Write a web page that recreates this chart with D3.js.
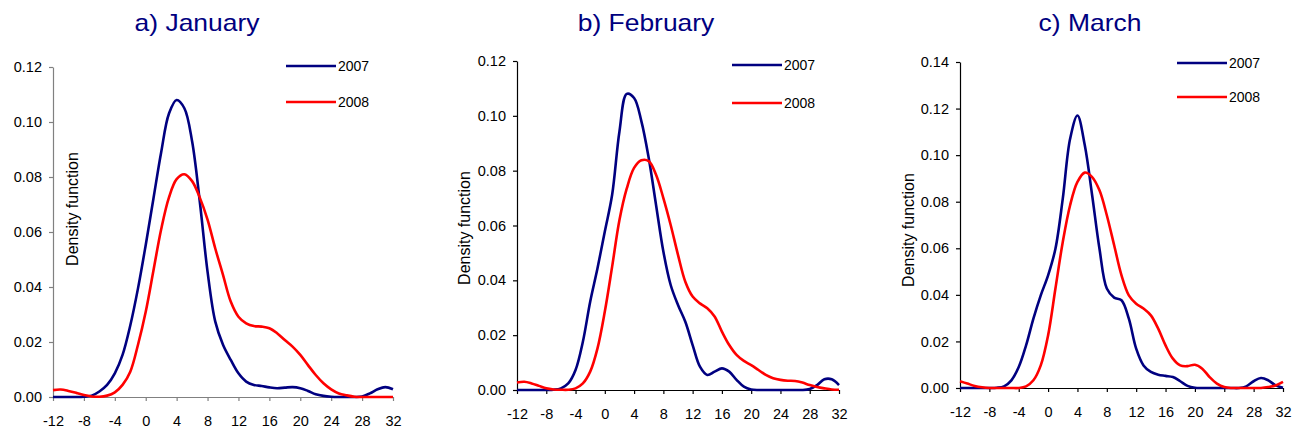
<!DOCTYPE html>
<html>
<head>
<meta charset="utf-8">
<script src="https://cdn.jsdelivr.net/npm/d3@7"></script>
<style>
body { margin: 0; background: #fff; }
text { font-family: Arial, "Liberation Sans", sans-serif; }
</style>
</head>
<body>
<script>
// data
var temps = [-12,-11,-10,-9,-8,-7,-6,-5,-4,-3,-2,-1,0,1,2,3,4,5,6,7,8,9,10,11,12,13,14,15,16,17,18,19,20,21,22,23,24,25,26,27,28,29,30,31,32];
var xTicks = [-12,-8,-4,0,4,8,12,16,20,24,28,32];
var years = ['2007', '2008'];

var jan2007 = [0,0,0,0,0.0001,0.0005,0.002,0.0044,0.0086,0.0153,0.026,0.0395,0.0553,0.0722,0.089,0.103,0.108,0.105,0.093,0.071,0.0456,0.0274,0.019,0.0135,0.0086,0.0056,0.0044,0.004,0.0035,0.0032,0.0034,0.0036,0.0032,0.0022,0.001,0.0004,0.0001,0,0,0,0.0002,0.0013,0.0028,0.0036,0.0028];
var jan2008 = [0.0025,0.0027,0.0022,0.0015,0.0007,0.0002,0.0001,0.0005,0.0017,0.0044,0.0092,0.019,0.031,0.046,0.061,0.0725,0.0792,0.081,0.0785,0.0725,0.0645,0.054,0.0444,0.0347,0.0292,0.0268,0.0258,0.0256,0.025,0.0232,0.0207,0.0183,0.0153,0.0116,0.008,0.005,0.0028,0.0013,0.0006,0.0001,0,0,0,0,0];

var feb2007 = [0,0,0,0,0,0.0001,0.0006,0.0024,0.0073,0.0176,0.0322,0.0444,0.0578,0.0712,0.0943,0.108,0.1065,0.098,0.0846,0.0675,0.0505,0.0383,0.031,0.0249,0.0164,0.0085,0.0055,0.0067,0.0079,0.0067,0.0037,0.0012,0.0002,0,0,0,0,0,0,0,0.0004,0.0018,0.0039,0.0039,0.0018];
var feb2008 = [0.0027,0.003,0.0024,0.0015,0.0006,0.0002,0.0001,0.0001,0.0006,0.0024,0.0067,0.0152,0.0286,0.045,0.062,0.0735,0.081,0.0838,0.0835,0.0785,0.07,0.0602,0.0493,0.0395,0.0341,0.0316,0.0298,0.0268,0.0213,0.0164,0.0128,0.0106,0.0091,0.0073,0.0055,0.0043,0.0037,0.0034,0.0033,0.0027,0.0018,0.0011,0.0006,0.0002,0.0001];

var mar2007 = [0,0,0,0,0,0.0001,0.0007,0.0033,0.009,0.0183,0.0298,0.0398,0.0484,0.0598,0.0813,0.107,0.117,0.1042,0.0828,0.0598,0.0427,0.0388,0.0377,0.0298,0.0169,0.0097,0.0069,0.0057,0.0052,0.0047,0.0029,0.0009,0.0001,0,0,0,0,0,0,0.0007,0.0029,0.0043,0.0033,0.0011,0.0001];
var mar2008 = [0.0029,0.0019,0.0009,0.0003,0,0,0,0,0,0.0007,0.0033,0.0097,0.0226,0.0427,0.0627,0.0785,0.0885,0.0925,0.0906,0.0849,0.0742,0.0613,0.0484,0.0398,0.0362,0.0341,0.0312,0.0255,0.0183,0.0126,0.0097,0.0094,0.01,0.0083,0.0047,0.0019,0.0004,0,0,0,0,0,0.0004,0.0011,0.0026];

var yTicksA = [0,0.02,0.04,0.06,0.08,0.10,0.12];
var yTicksC = [0,0.02,0.04,0.06,0.08,0.10,0.12,0.14];

var colors = ['#000080', '#ff0000'];

// panel layout
var panels = [
	{ title: 'a) January', s: [jan2007, jan2008], yMax: 0.12, yTicks: yTicksA,
	  left: 53, right: 393, top: 67, bottom: 397, axisColor: '#808080',
	  titleX: 197, labelX: 78, labelY: 209, legX: 286, legY: [66, 102] },
	{ title: 'b) February', s: [feb2007, feb2008], yMax: 0.12, yTicks: yTicksA,
	  left: 517, right: 839, top: 61, bottom: 390, axisColor: '#000',
	  titleX: 646, labelX: 470, labelY: 228, legX: 732, legY: [65, 103] },
	{ title: 'c) March', s: [mar2007, mar2008], yMax: 0.14, yTicks: yTicksC,
	  left: 960, right: 1283, top: 62, bottom: 388, axisColor: '#000',
	  titleX: 1090, labelX: 914, labelY: 230, legX: 1177, legY: [63, 97] }
];

var svg = d3.select('body')
	.append('svg')
	.attr('width', 1299)
	.attr('height', 433);

panels.forEach(function (p) {
	var x = d3.scaleLinear().domain([-12, 32]).range([p.left, p.right]);
	var y = d3.scaleLinear().domain([0, p.yMax]).range([p.bottom, p.top]);

	// title
	svg.append('text')
		.attr('transform', 'translate(' + p.titleX + ',31) scale(1.15,1)')
		.attr('text-anchor', 'middle')
		.attr('font-size', 23)
		.attr('fill', '#000080')
		.text(p.title);

	// axes
	var xAxis = d3.axisBottom(x)
		.tickValues(xTicks)
		.tickSize(4)
		.tickSizeOuter(0)
		.tickPadding(15)
		.tickFormat(function (d) { return String(d); });
	var yAxis = d3.axisLeft(y)
		.tickValues(p.yTicks)
		.tickSize(4)
		.tickSizeOuter(0)
		.tickPadding(7)
		.tickFormat(d3.format('.2f'));

	var gx = svg.append('g')
		.attr('transform', 'translate(0,' + p.bottom + ')')
		.call(xAxis);
	var gy = svg.append('g')
		.attr('transform', 'translate(' + p.left + ',0)')
		.call(yAxis);

	[gx, gy].forEach(function (g) {
		g.selectAll('path, line').attr('stroke', p.axisColor).attr('stroke-width', 1.2);
		g.selectAll('text').attr('font-size', 14.5).attr('fill', '#000')
			.style('font-family', 'Arial, "Liberation Sans", sans-serif');
	});

	// y label
	svg.append('text')
		.attr('transform', 'translate(' + p.labelX + ',' + p.labelY + ') rotate(-90)')
		.attr('text-anchor', 'middle')
		.attr('font-size', 16)
		.attr('fill', '#000')
		.text('Density function');

	// lines
	var line = d3.line()
		.x(function (d, i) { return x(temps[i]); })
		.y(function (d) { return y(d); })
		.curve(d3.curveCatmullRom.alpha(0.5));

	p.s.forEach(function (vals, k) {
		svg.append('path')
			.datum(vals)
			.attr('d', line)
			.attr('fill', 'none')
			.attr('stroke', colors[k])
			.attr('stroke-width', 2.6);
	});

	// legend
	years.forEach(function (yr, k) {
		svg.append('line')
			.attr('x1', p.legX).attr('x2', p.legX + 50)
			.attr('y1', p.legY[k]).attr('y2', p.legY[k])
			.attr('stroke', colors[k])
			.attr('stroke-width', 2.6);
		svg.append('text')
			.attr('x', p.legX + 52)
			.attr('y', p.legY[k] + 5)
			.attr('font-size', 14)
			.attr('fill', '#000')
			.text(yr);
	});
});
</script>
</body>
</html>
